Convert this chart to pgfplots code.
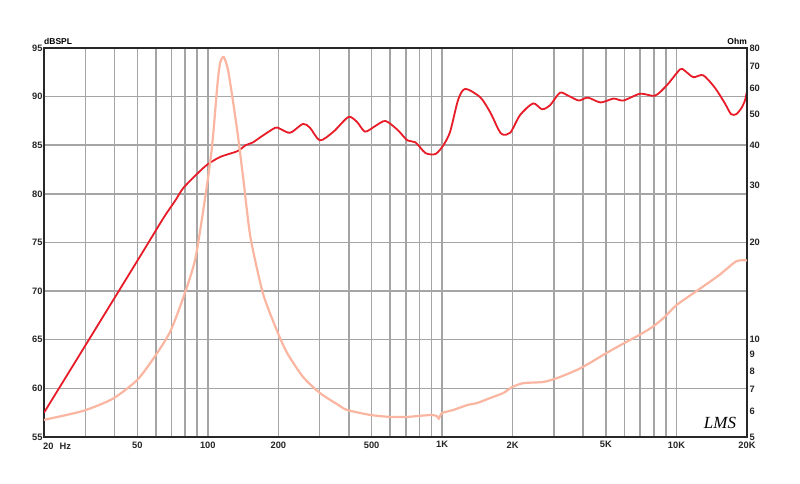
\documentclass[border=0pt]{standalone}
\usepackage{pgfplots}
\pgfplotsset{compat=1.18}
\usepackage{fontspec}
\setmainfont{Liberation Sans}
\newfontfamily\logofont{Liberation Serif}
\definecolor{splred}{RGB}{232,28,40}
\definecolor{impsalmon}{RGB}{250,182,160}
\definecolor{gridgray}{RGB}{165,165,165}
\definecolor{framedark}{RGB}{40,40,40}
\begin{document}
\begin{tikzpicture}
\path[use as bounding box, fill=white] (-44pt,-47pt) rectangle (756pt,437pt);
\begin{axis}[
  at={(0pt,0pt)}, anchor=south west,
  scale only axis, width=703pt, height=389pt,
  xmode=log, xmin=20, xmax=20000,
  ymin=55, ymax=95,
  xtick={20,30,40,50,60,70,80,90,100,200,300,400,500,600,700,800,900,1000,2000,3000,4000,5000,6000,7000,8000,9000,10000,20000},
  xticklabels={,,,50,,,,,100,200,,,500,,,,,1K,2K,,,5K,,,,,10K,20K},
  minor xtick={}, minor ytick={},
  ytick={55,60,65,70,75,80,85,90,95},
  yticklabels={55,60,65,70,75,80,85,90,95},
  major tick length=0pt,
  grid=major,
  major grid style={gridgray, line width=1.5pt},
  axis line style={framedark, line width=1.6pt},
  tick label style={font=\bfseries\fontsize{9.3}{10}\selectfont, text=black!85},
  xticklabel style={yshift=-1pt},
  yticklabel style={xshift=2pt},
  /pgf/number format/assume math mode=true,
  clip=true,
]
\addplot[splred, line width=1.8pt, smooth, tension=0.45] coordinates {
(20,57.5) (30,64.4) (40,69.3) (53,74.1) (65,77.6) (72.6,79.3) (78.6,80.6) (90.4,82.1)
(99.4,83.0) (113,83.8) (134,84.4) (145,85.0) (156,85.3) (167,85.8) (194,86.8)
(203,86.7) (220,86.3) (230,86.4) (255,87.2) (273,86.8) (301,85.5) (344,86.4)
(398,87.9) (433,87.4) (469,86.4) (520,87.0) (573,87.5) (644,86.6) (711,85.5)
(770,85.3) (849,84.2) (937,84.1) (1012,85.0) (1082,86.4) (1171,89.7) (1256,90.8)
(1459,89.9) (1611,88.3) (1740,86.6) (1813,86.1) (1956,86.3) (2150,88.1) (2443,89.3)
(2669,88.7) (2885,89.1) (3180,90.4) (3450,90.1) (3829,89.6) (4183,89.9) (4745,89.4)
(5387,89.8) (5935,89.6) (7000,90.3) (8100,90.1) (9120,91.2) (10350,92.8) (10800,92.7)
(11800,92.0) (13000,92.2) (14600,90.9) (16100,89.3) (17100,88.2) (18000,88.2)
(18900,88.8) (19600,89.6) (20000,90.6)
};
\end{axis}
\begin{axis}[
  at={(0pt,0pt)}, anchor=south west,
  scale only axis, width=703pt, height=389pt,
  xmode=log, xmin=20, xmax=20000,
  ymode=log, ymin=5, ymax=80,
  axis y line*=right, axis x line=none,
  ytick={5,6,7,8,9,10,20,30,40,50,60,70,80},
  yticklabels={5,6,7,8,9,10,20,30,40,50,60,70,80},
  minor ytick={}, minor xtick={},
  major tick length=0pt,
  axis line style={framedark, line width=1.6pt},
  tick label style={font=\bfseries\fontsize{9.3}{10}\selectfont, text=black!85},
  yticklabel style={xshift=-1pt},
  clip=true,
]
\addplot[impsalmon, line width=2.2pt, smooth, tension=0.4] coordinates {
(20,5.65) (29.3,6.02) (39.2,6.56) (49.9,7.5) (59.2,8.84) (69,10.57) (78.6,13.5)
(88.6,17.9) (99.4,30.4) (104.6,40.6) (110,62) (113,72.3) (117,75) (121.9,68.6)
(127.9,55.1) (134,43.6) (141.5,31.8) (152,20.8) (172,13.9) (197,10.7) (218,9.1)
(255,7.67) (301,6.84) (366,6.24) (393,6.06) (494,5.85) (600,5.77) (711,5.77)
(894,5.85) (950,5.8) (967,5.7) (1000,5.93) (1115,6.06) (1280,6.28) (1411,6.37)
(1602,6.6) (1823,6.84) (1991,7.14) (2222,7.34) (2696,7.4) (3081,7.6) (3755,8.06)
(4261,8.47) (5028,9.1) (5887,9.7) (6950,10.35) (7906,10.96) (8895,11.75)
(10000,12.8) (12700,14.45) (15300,15.9) (18000,17.5) (20000,17.6)
};
\end{axis}
\node[anchor=south west, font=\bfseries\fontsize{8.5}{9}\selectfont, inner sep=0pt] at (0pt,392pt) {dBSPL};
\node[anchor=south east, font=\bfseries\fontsize{8.5}{9}\selectfont, inner sep=0pt] at (703pt,392pt) {Ohm};
\node[anchor=north west, font=\bfseries\fontsize{9.3}{10}\selectfont, text=black!85, inner sep=0pt] at (-1pt,-6pt) {20\hspace{6pt}Hz};
\node[font=\logofont\itshape\fontsize{17}{18}\selectfont, inner sep=0pt] at (676pt,14pt) {LMS};
\end{tikzpicture}
\end{document}
